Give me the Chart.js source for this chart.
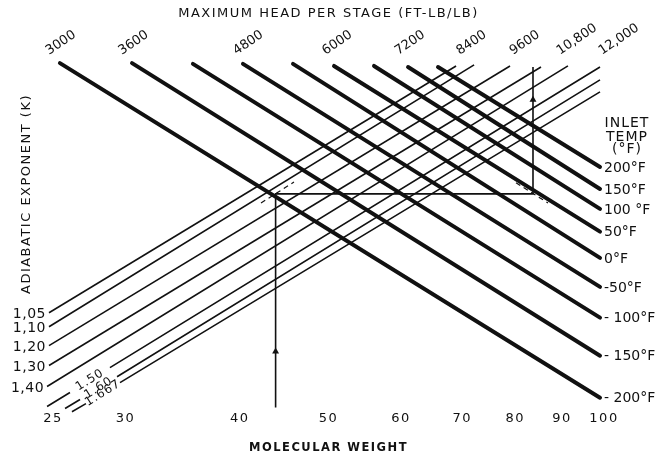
<!DOCTYPE html>
<html>
<head>
<meta charset="utf-8">
<script src="https://cdn.jsdelivr.net/npm/chart.js@4"></script>
<style>
  html, body { margin: 0; padding: 0; background: #fff; }
</style>
</head>
<body>
<canvas id="chart" width="658" height="459"></canvas>
<script>
// molecular weight axis (bottom, log) and head-per-stage labels (top, log)
const mwTicks = [25, 30, 40, 50, 60, 70, 80, 90, 100];
const headTicks = [3000, 3600, 4800, 6000, 7200, 8400, 9600, 10800, 12000];
const headLabels = ['3000', '3600', '4800', '6000', '7200', '8400', '9600', '10,800', '12,000'];

// inlet temperature lines (thick), from the top edge down to the right edge
const tempLabels = ['- 200°F', '- 150°F', '- 100°F', '-50°F', '0°F', '50°F', '100 °F', '150°F', '200°F'];
const tempStartMw = [25.44, 30.50, 35.55, 40.32, 45.73, 50.70, 56.07, 61.08, 65.86];
const tempStartLevel = [99.1, 99.1, 98.9, 98.9, 98.9, 98.3, 98.3, 98.0, 98.0];
const tempEndMw = [99.0, 99.0, 99.0, 99.0, 99.0, 99.0, 99.0, 99.0, 99.0];
const tempEndLevel = [3.4, 15.4, 26.3, 35.1, 43.4, 50.9, 57.4, 63.1, 69.4];

// adiabatic exponent lines (thin); null marks the break left for the label
const kLabels = ['1,05', '1,10', '1,20', '1,30', '1,40', '1.50', '1.60', '1.667'];
const kMw = [
  [24.75, 68.92],
  [24.75, 72.12],
  [24.75, 78.94],
  [24.75, 85.34],
  [24.63, 91.33],
  [24.63, 26.09, null, 28.85, 99.0],
  [25.77, 26.76, null, 29.37, 99.0],
  [26.22, 27.16, null, 29.59, 99.0]
];
const kLevel = [
  [27.7, 98.3],
  [23.7, 98.6],
  [18.3, 98.3],
  [12.6, 98.0],
  [6.6, 98.3],
  [0.9, 4.9, null, 12.0, 98.0],
  [0.3, 2.9, null, 9.4, 94.3],
  [-0.6, 1.7, null, 7.7, 90.9]
];

// worked example path, its arrows and the dashed guides at the corners
const pathMw = [43.77, 43.77, 83.64, 83.64];
const pathLevel = [0.6, 61.7, 61.7, 98.0];
const arrowMw = [43.77, 83.64];
const arrowLevel = [16.6, 88.6];
const guideMw = [[42.19, 45.84], [80.14, 86.85]];
const guideLevel = [[59.1, 65.1], [64.9, 59.1]];

const INK = '#111';
const FONT = '"DejaVu Sans", sans-serif';

function pts(xs, ys) {
  return xs.map((x, i) => ({ x: x, y: ys[i] }));
}

const datasets = [];
tempLabels.forEach((t, i) => {
  datasets.push({
    label: t,
    data: pts([tempStartMw[i], tempEndMw[i]], [tempStartLevel[i], tempEndLevel[i]]),
    showLine: true, borderColor: INK, borderWidth: 4, borderCapStyle: 'round',
    pointRadius: 0, clip: false
  });
});
kLabels.forEach((k, i) => {
  datasets.push({
    label: k,
    data: pts(kMw[i], kLevel[i]),
    showLine: true, spanGaps: false, borderColor: INK, borderWidth: 1.6,
    pointRadius: 0, clip: false
  });
});
datasets.push({
  label: 'example',
  data: pts(pathMw, pathLevel),
  showLine: true, borderColor: INK, borderWidth: 1.6, pointRadius: 0, clip: false
});
datasets.push({
  label: 'arrows',
  data: pts(arrowMw, arrowLevel),
  showLine: false, pointStyle: 'triangle', pointRadius: 4,
  backgroundColor: INK, borderColor: INK, borderWidth: 0, clip: false
});
guideMw.forEach((g, i) => {
  datasets.push({
    label: 'guide' + i,
    data: pts(g, guideLevel[i]),
    showLine: true, borderColor: INK, borderWidth: 1.2, borderDash: [5, 4],
    pointRadius: 0, clip: false
  });
});

const nTemp = tempLabels.length;

const nomoLabels = {
  id: 'nomoLabels',
  beforeDraw(chart) {
    // spacing for the title (drawn before the datasets)
    chart.ctx.letterSpacing = '1.5px';
  },
  afterDatasetsDraw(chart) {
    const ctx = chart.ctx;
    ctx.save();
    ctx.fillStyle = INK;

    // head per stage labels along the top
    ctx.font = '13px ' + FONT;
    ctx.letterSpacing = '0px';
    ctx.textAlign = 'left';
    ctx.textBaseline = 'alphabetic';
    headTicks.forEach((h, i) => {
      const px = chart.scales.x2.getPixelForValue(h);
      ctx.save();
      ctx.translate(px - 15, 55);
      ctx.rotate(-34 * Math.PI / 180);
      ctx.fillText(headLabels[i], 0, 0);
      ctx.restore();
    });

    // temperature labels at the right end of each thick line
    ctx.font = '14px ' + FONT;
    ctx.letterSpacing = '0px';
    ctx.textBaseline = 'middle';
    tempLabels.forEach((t, i) => {
      const p = chart.getDatasetMeta(i).data[1];
      ctx.fillText(t, p.x + 4, p.y + 1);
    });

    // adiabatic exponent labels
    kLabels.forEach((k, i) => {
      const pd = chart.getDatasetMeta(nTemp + i).data;
      if (kMw[i].length === 2) {
        ctx.font = '14px ' + FONT;
        ctx.letterSpacing = '0.5px';
        ctx.textAlign = 'right';
        ctx.fillText(k, pd[0].x - 3, pd[0].y + 2);
      } else {
        const a = pd[1], b = pd[3];
        ctx.save();
        ctx.font = '12px ' + FONT;
        ctx.letterSpacing = '1px';
        ctx.textAlign = 'center';
        ctx.translate((a.x + b.x) / 2, (a.y + b.y) / 2);
        ctx.rotate(Math.atan2(b.y - a.y, b.x - a.x));
        ctx.fillText(k, 0, 0);
        ctx.restore();
      }
    });

    // inlet temp heading
    ctx.font = '14px ' + FONT;
    ctx.letterSpacing = '1px';
    ctx.textAlign = 'center';
    ctx.fillText('INLET', 627, 123);
    ctx.fillText('TEMP', 627, 137);
    ctx.fillText('(°F)', 627, 149);

    // left axis title
    ctx.save();
    ctx.font = '13px ' + FONT;
    ctx.letterSpacing = '1.5px';
    ctx.translate(27, 194);
    ctx.rotate(-Math.PI / 2);
    ctx.fillText('ADIABATIC EXPONENT (K)', 0, 0);
    ctx.restore();

    ctx.restore();
    // spacing for the bottom axis (drawn after the datasets, z = 1)
    ctx.letterSpacing = '0.5px';
  }
};

new Chart(document.getElementById('chart'), {
  type: 'scatter',
  data: { datasets: datasets },
  options: {
    responsive: false,
    animation: false,
    events: [],
    layout: { padding: { left: 53, right: 54, top: 0, bottom: 0 } },
    plugins: {
      legend: { display: false },
      tooltip: { enabled: false },
      title: {
        display: true,
        text: 'MAXIMUM HEAD PER STAGE (FT-LB/LB)',
        color: INK,
        font: { family: FONT, size: 13, weight: 'normal' },
        padding: { top: 6, bottom: 38.4 }
      }
    },
    scales: {
      x: {
        type: 'logarithmic',
        position: 'bottom',
        z: 1,
        min: 25,
        max: 100,
        grid: { display: false, drawTicks: false },
        border: { display: false },
        afterBuildTicks: (s) => { s.ticks = mwTicks.map(v => ({ value: v })); },
        ticks: {
          autoSkip: false, maxRotation: 0, minRotation: 0, padding: 1,
          color: INK, font: { family: FONT, size: 13 },
          callback: (v) => String(v)
        },
        title: {
          display: true,
          text: 'MOLECULAR WEIGHT',
          color: INK,
          font: { family: FONT, size: 11.5, weight: 'bold' },
          padding: { top: 14, bottom: 4 }
        }
      },
      x2: { type: 'logarithmic', position: 'top', display: false, min: 2918, max: 11615 },
      y: { type: 'linear', min: 0, max: 100, display: false }
    }
  },
  plugins: [nomoLabels]
});
</script>
</body>
</html>
